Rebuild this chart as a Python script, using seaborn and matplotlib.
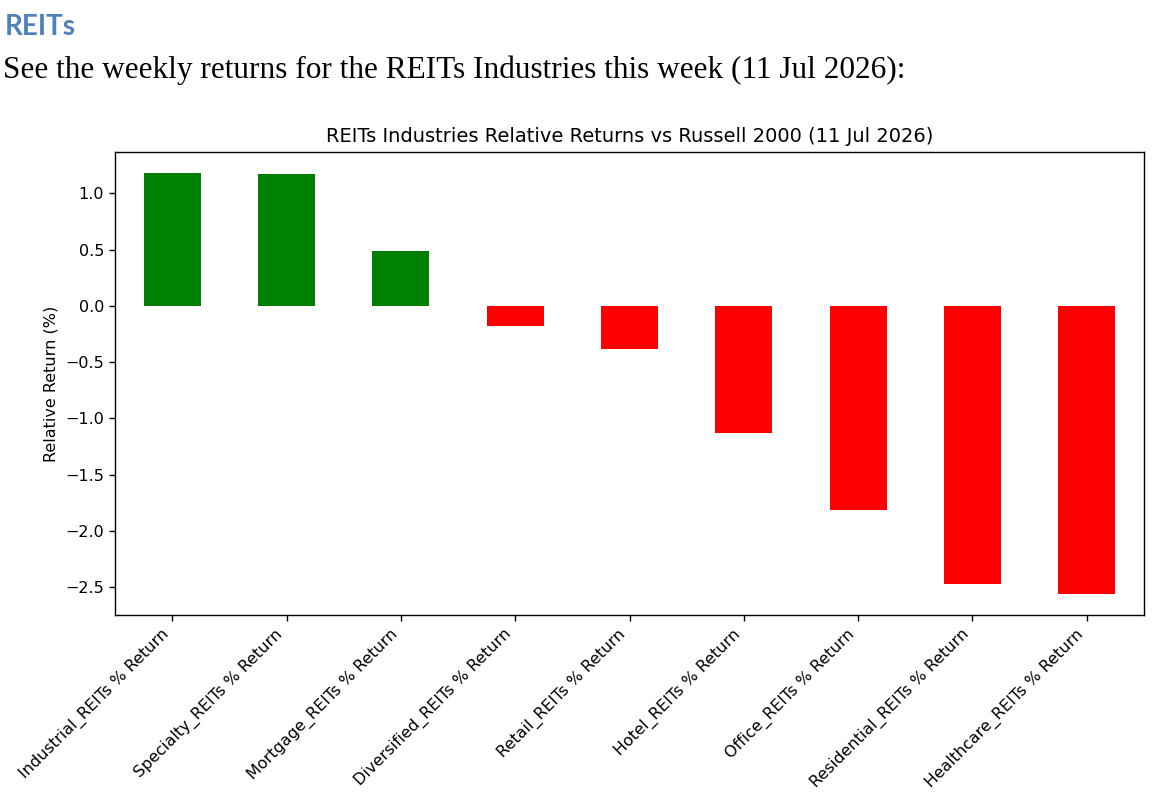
import matplotlib
matplotlib.use("Agg")
import matplotlib.pyplot as plt
import pandas as pd
import seaborn as sns

# Weekly relative returns vs Russell 2000
industries = [
    "Industrial_REITs % Return",
    "Specialty_REITs % Return",
    "Mortgage_REITs % Return",
    "Diversified_REITs % Return",
    "Retail_REITs % Return",
    "Hotel_REITs % Return",
    "Office_REITs % Return",
    "Residential_REITs % Return",
    "Healthcare_REITs % Return",
]
relative_returns = [1.18, 1.17, 0.49, -0.18, -0.38, -1.13, -1.81, -2.47, -2.56]

heading = "REITs"
intro = "See the weekly returns for the REITs Industries this week (11 Jul 2026):"
chart_title = "REITs Industries Relative Returns vs Russell 2000 (11 Jul 2026)"

sns.set_theme(style="ticks")
plt.rcParams["font.family"] = ["DejaVu Sans"]
plt.rcParams["text.color"] = "black"
plt.rcParams["axes.labelcolor"] = "black"
plt.rcParams["xtick.color"] = "black"
plt.rcParams["ytick.color"] = "black"

df = pd.DataFrame({"industry": industries, "ret": relative_returns})
df["sign"] = ["pos" if v >= 0 else "neg" for v in df["ret"]]

W, H = 1162, 798
fig = plt.figure(figsize=(W / 100, H / 100), dpi=100)
fig.patch.set_facecolor("white")

# document-like header text above the embedded chart
fig.text(5 / W, 1 - 35 / H, heading, color="#4F81BD", fontsize=20,
         fontweight="bold", family=["Lato", "DejaVu Sans"], va="baseline")
fig.text(3 / W, 1 - 78 / H, intro, color="black", fontsize=22.5,
         family=["Liberation Serif", "DejaVu Serif"], va="baseline")

ax = fig.add_axes([115 / W, 1 - 615 / H, (1144 - 115) / W, (615 - 152) / H])
sns.barplot(
    data=df,
    x="industry",
    y="ret",
    hue="sign",
    palette={"pos": "green", "neg": "red"},
    width=0.5,
    linewidth=0,
    saturation=1,
    legend=False,
    ax=ax,
)
ax.set_xlim(-0.5, len(industries) - 0.5)
ax.set_title(chart_title, fontsize=14, color="black", pad=7)
ax.set_xlabel("")
ax.set_ylabel("Relative Return (%)", fontsize=11.5, labelpad=5)
ax.tick_params(axis="both", labelsize=11.5, length=4.5, width=1, color="black")
plt.setp(ax.get_xticklabels(), rotation=45, ha="right", rotation_mode="default")
for spine in ax.spines.values():
    spine.set_visible(True)
    spine.set_color("black")
    spine.set_linewidth(1)

fig.savefig("out.png", dpi=100, facecolor="white")
